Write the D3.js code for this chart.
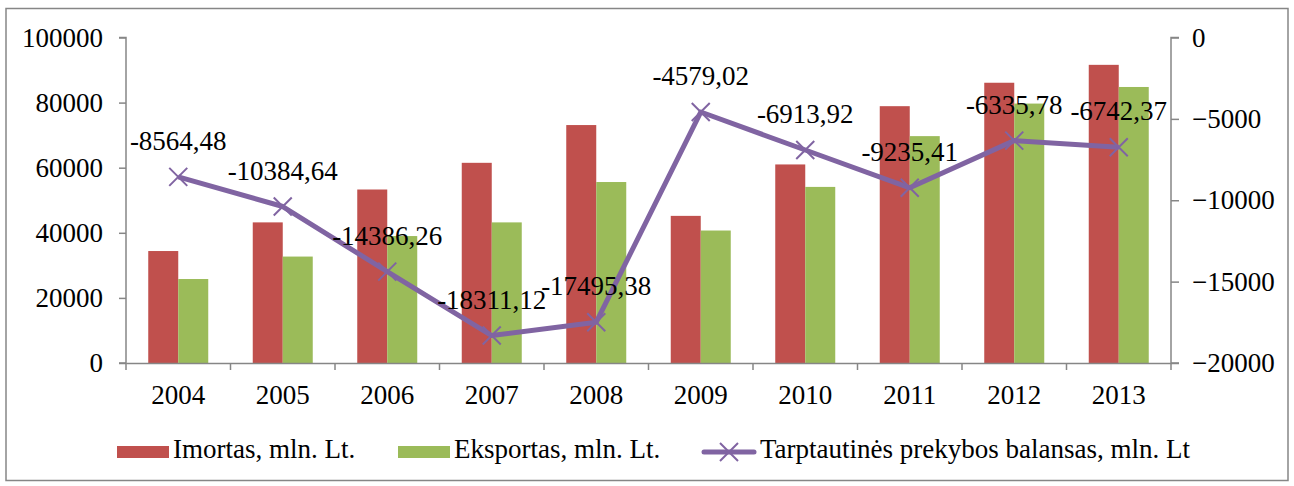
<!DOCTYPE html>
<html>
<head>
<meta charset="utf-8">
<script src="https://cdn.jsdelivr.net/npm/d3@7"></script>
<style>
  body { margin: 0; background: #fff; }
  svg text { font-family: "Liberation Serif", "Times New Roman", serif; fill: #000; }
</style>
</head>
<body>
<svg id="chart" width="1294" height="486"></svg>
<script>
var years = ["2004", "2005", "2006", "2007", "2008", "2009", "2010", "2011", "2012", "2013"];
var imports = [34400, 43200, 53300, 61500, 73100, 45200, 61000, 78900, 86100, 91600];
var exports = [25800, 32700, 39000, 43200, 55600, 40700, 54100, 69700, 79700, 84800];
var balance = [-8564.48, -10384.64, -14386.26, -18311.12, -17495.38, -4579.02, -6913.92, -9235.41, -6335.78, -6742.37];
var balanceLabels = ["-8564,48", "-10384,64", "-14386,26", "-18311,12", "-17495,38", "-4579,02", "-6913,92", "-9235,41", "-6335,78", "-6742,37"];
var leftTicks = [0, 20000, 40000, 60000, 80000, 100000];
var rightTicks = [-20000, -15000, -10000, -5000, 0];
var seriesNames = ["Imortas, mln. Lt.", "Eksportas, mln. Lt.", "Tarptautinės prekybos balansas, mln. Lt"];

var colRed = "#C0504D", colGreen = "#9BBB59", colPurple = "#8064A2", axisCol = "#868686";
var fontSize = "27px";

var svg = d3.select("#chart");
var plotLeft = 126, plotRight = 1171, plotTop = 37.5, plotBottom = 363;

// outer frame
svg.append("rect")
  .attr("x", 6).attr("y", 8.5).attr("width", 1282).attr("height", 472)
  .attr("fill", "none").attr("stroke", axisCol).attr("stroke-width", 1.5);

var x = d3.scaleBand().domain(years).range([plotLeft, plotRight]);
var yL = d3.scaleLinear().domain([0, 100000]).range([plotBottom, plotTop]);
var yR = d3.scaleLinear().domain([-20000, 0]).range([plotBottom, plotTop]);
var barW = 30;

// bars
svg.append("g").selectAll("rect").data(years).enter().append("rect")
  .attr("x", function (d) { return x(d) + x.bandwidth() / 2 - barW; })
  .attr("y", function (d, i) { return yL(imports[i]); })
  .attr("width", barW)
  .attr("height", function (d, i) { return plotBottom - yL(imports[i]); })
  .attr("fill", colRed);

svg.append("g").selectAll("rect").data(years).enter().append("rect")
  .attr("x", function (d) { return x(d) + x.bandwidth() / 2; })
  .attr("y", function (d, i) { return yL(exports[i]); })
  .attr("width", barW)
  .attr("height", function (d, i) { return plotBottom - yL(exports[i]); })
  .attr("fill", colGreen);

// axes
var gL = svg.append("g").attr("transform", "translate(" + plotLeft + ",0)")
  .call(d3.axisLeft(yL).tickValues(leftTicks).tickSize(7).tickPadding(16).tickFormat(d3.format("d")));
var gR = svg.append("g").attr("transform", "translate(" + plotRight + ",0)")
  .call(d3.axisRight(yR).tickValues(rightTicks).tickSize(8).tickPadding(13).tickFormat(d3.format("d")));
var gX = svg.append("g").attr("transform", "translate(0," + plotBottom + ")")
  .call(d3.axisBottom(x).tickSize(0).tickPadding(22));

// category separators on x axis
gX.selectAll(".sep").data(d3.range(years.length + 1)).enter().append("line")
  .attr("x1", function (i) { return plotLeft + i * x.step(); })
  .attr("x2", function (i) { return plotLeft + i * x.step(); })
  .attr("y1", 0).attr("y2", 7);

[gL, gR, gX].forEach(function (g) {
  g.selectAll("path, line").attr("stroke", axisCol).attr("stroke-width", 1.5);
  g.selectAll("text").style("font-size", fontSize).style("font-family", "Liberation Serif");
});
gL.select(".domain").attr("d", "M-7," + plotTop + "H0V" + plotBottom + "H-7");
gR.select(".domain").attr("d", "M8," + plotTop + "H0V" + plotBottom + "H8");

// balance line
var line = d3.line()
  .x(function (d, i) { return x(years[i]) + x.bandwidth() / 2; })
  .y(function (d) { return yR(d); });

svg.append("path").datum(balance)
  .attr("d", line)
  .attr("fill", "none").attr("stroke", colPurple).attr("stroke-width", 5)
  .attr("stroke-linejoin", "round");

var m = 9;
function cross(cx, cy) {
  return "M" + (cx - m) + "," + (cy - m) + "L" + (cx + m) + "," + (cy + m) +
    "M" + (cx - m) + "," + (cy + m) + "L" + (cx + m) + "," + (cy - m);
}
svg.append("g").selectAll("path").data(balance).enter().append("path")
  .attr("d", function (d, i) { return cross(x(years[i]) + x.bandwidth() / 2, yR(d)); })
  .attr("stroke", colPurple).attr("stroke-width", 2).attr("fill", "none");

// data labels
svg.append("g").selectAll("text").data(balance).enter().append("text")
  .attr("x", function (d, i) { return x(years[i]) + x.bandwidth() / 2; })
  .attr("y", function (d) { return yR(d) - 27; })
  .attr("text-anchor", "middle")
  .style("font-size", fontSize)
  .text(function (d, i) { return balanceLabels[i]; });

// legend
var ly = 452, tb = 458;
var legend = svg.append("g");
legend.append("rect").attr("x", 117).attr("y", ly - 6).attr("width", 52).attr("height", 12).attr("fill", colRed);
legend.append("text").attr("x", 173).attr("y", tb).style("font-size", fontSize).text(seriesNames[0]);
legend.append("rect").attr("x", 398).attr("y", ly - 6).attr("width", 52).attr("height", 12).attr("fill", colGreen);
legend.append("text").attr("x", 454).attr("y", tb).style("font-size", fontSize).text(seriesNames[1]);
legend.append("line").attr("x1", 704).attr("x2", 754).attr("y1", ly).attr("y2", ly)
  .attr("stroke", colPurple).attr("stroke-width", 5).attr("stroke-linecap", "round");
legend.append("path").attr("d", cross(729, ly))
  .attr("stroke", colPurple).attr("stroke-width", 2);
legend.append("text").attr("x", 760).attr("y", tb).style("font-size", fontSize).text(seriesNames[2]);
</script>
</body>
</html>
